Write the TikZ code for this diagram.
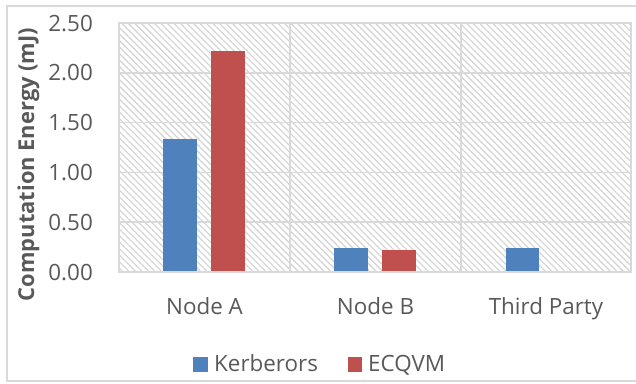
\documentclass[tikz,border=0pt]{standalone}
\usepackage{fontspec}
\setmainfont{Open Sans}
\usetikzlibrary{patterns.meta}
\definecolor{kblue}{HTML}{4F81BD}
\definecolor{ered}{HTML}{C0504D}
\definecolor{gridgray}{HTML}{D9D9D9}
\definecolor{hatchgray}{HTML}{D6D6D6}
\definecolor{txt}{HTML}{595959}
\tikzset{
  lblfont/.style={text=txt, font=\fontsize{22.4}{26}\selectfont},
  ticklbl/.style={anchor=base east, inner sep=0pt, lblfont},
  catlbl/.style={anchor=base, inner sep=0pt, lblfont},
  leglbl/.style={anchor=base west, inner sep=0pt, lblfont},
  gridline/.style={draw=gridgray, line width=1.5pt},
}
\begin{document}
\begin{tikzpicture}[x=1pt, y=-1pt]
\useasboundingbox (0,0) rectangle (636,383);
% chart frame
\draw[gridgray, line width=1.5pt] (7,6) rectangle (645,381);
% plot area with hatched background
\fill[pattern={Lines[angle=-45, distance=4.6pt, line width=1.3pt]}, pattern color=hatchgray]
  (119,23) rectangle (631,272);
% gridlines
\foreach \v in {0.5,1,1.5,2} \draw[gridline] (119,272-99.6*\v) -- (631,272-99.6*\v);
\draw[gridline] (290,23) -- (290,272);
\draw[gridline] (461,23) -- (461,272);
\draw[gridline] (119,23) rectangle (631,272);
% bars
\fill[kblue] (163.3,139) rectangle (197,272);
\fill[ered]  (211.3,50.7) rectangle (245,272);
\fill[kblue] (334.3,248.3) rectangle (368.3,272);
\fill[ered]  (382.3,249.7) rectangle (416.3,272);
\fill[kblue] (505.7,248.3) rectangle (539.4,272);
% category axis
\draw[gridgray, line width=2pt] (119,272) -- (631,272);
% value axis labels
\foreach \v/\t in {0/0.00,0.5/0.50,1/1.00,1.5/1.50,2/2.00,2.5/2.50}
  \node[ticklbl] (tick\t) at (93,272-99.6*\v+8) {\t};
% category labels
\node[catlbl] (catA) at (204.5,314) {Node A};
\node[catlbl] (catB) at (375.5,314) {Node B};
\node[catlbl] (catT) at (546,314) {Third Party};
% axis title
\node[anchor=base, inner sep=0pt, rotate=90, text=txt, font=\fontsize{21.9}{26}\selectfont\bfseries] (ytitle) at (34,164.5) {Computation Energy (mJ)};
% legend
\fill[kblue] (193.3,357.2) rectangle (207.7,371.6);
\node[leglbl] (legK) at (214,371.6) {Kerberors};
\fill[ered] (347.5,357.2) rectangle (361.9,371.6);
\node[leglbl] (legE) at (368,371.6) {ECQVM};
\end{tikzpicture}
\end{document}
